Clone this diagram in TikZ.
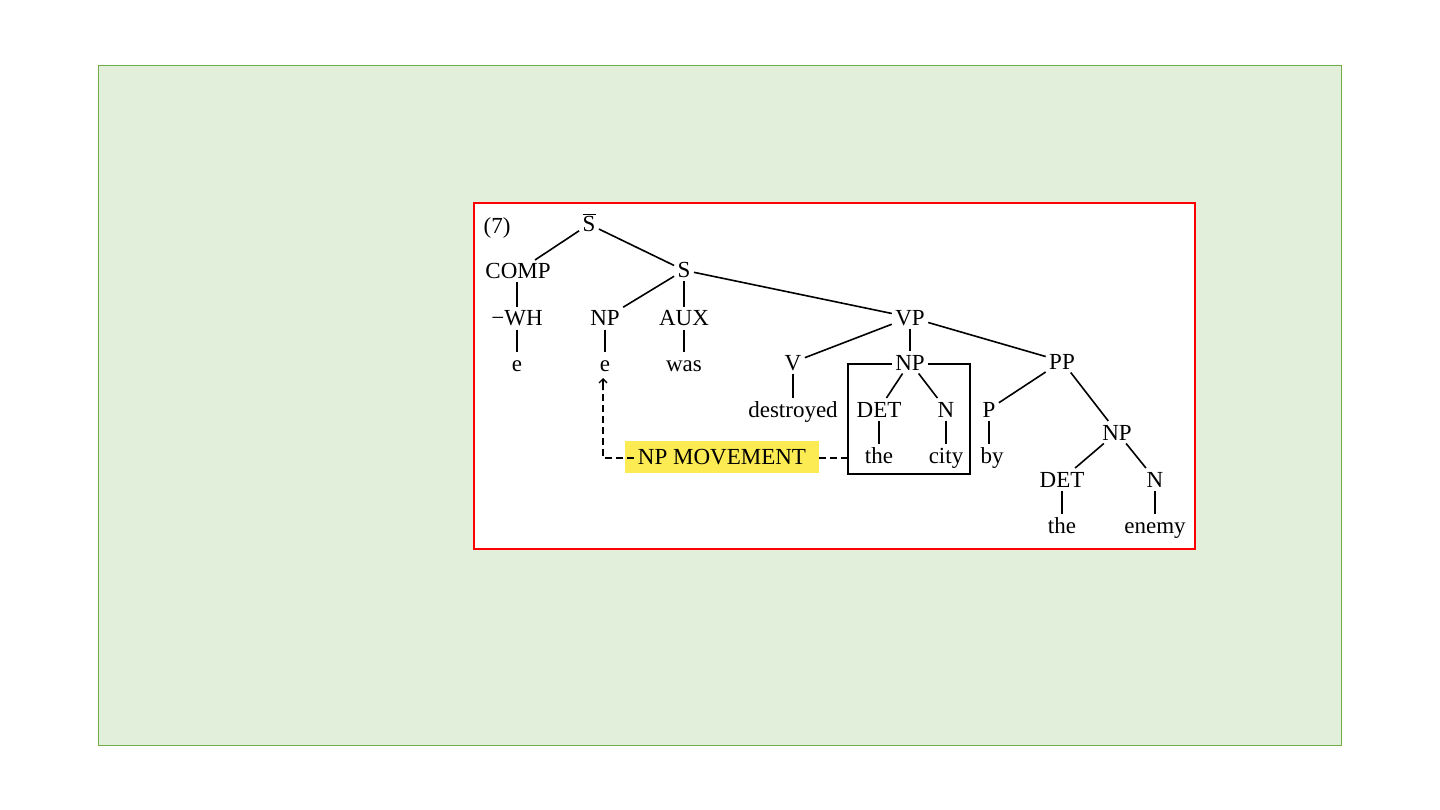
\documentclass[tikz,border=0pt]{standalone}
\usepackage{fontspec}
\setmainfont{Liberation Serif}
\usetikzlibrary{arrows.meta}
\definecolor{bggreen}{HTML}{E2EFDA}
\definecolor{bgborder}{HTML}{70AD47}
\definecolor{hlyellow}{HTML}{FCEB52}
\definecolor{framered}{HTML}{FF0000}
\tikzset{
  lab/.style={font=\fontsize{23}{27}\selectfont, inner sep=3pt, outer sep=0.5pt,
              text height=15.5pt, text depth=0pt, anchor=base},
  edge/.style={line width=1.6pt, black},
  movedash/.style={line width=1.4pt, dash pattern=on 7pt off 4pt},
  hlbox/.style={font=\fontsize{23}{27}\selectfont, fill=hlyellow, inner xsep=13pt,
                inner ysep=0pt, text height=15.5pt, text depth=0pt, minimum height=32pt}
}
\begin{document}
\begin{tikzpicture}[x=1pt,y=-1pt]
\useasboundingbox (0,0) rectangle (1440,810);
\draw[fill=bggreen, draw=bgborder, line width=0.9pt] (98,65) rectangle (1341,745);
\draw[fill=white, draw=framered, line width=1.2pt] (474,203) rectangle (1195,549);

% nodes
\node[lab] (num) at (497,234) {(7)};
\node[lab] (sbar) at (589,232) {S};
\draw[line width=1.2pt] ([shift={(-6.5,-17.5)}]sbar.base) -- ([shift={(6.5,-17.5)}]sbar.base);
\node[lab] (comp) at (518,279) {COMP};
\node[lab] (s) at (684,278) {S};
\node[lab] (wh) at (517,326) {−WH};
\node[lab] (np1) at (605,326) {NP};
\node[lab] (aux) at (684,326) {AUX};
\node[lab] (vp) at (910,325) {VP};
\node[lab] (e1) at (517,371) {e};
\node[lab] (e2) at (605,371) {e};
\node[lab] (was) at (684,371) {was};
\node[lab] (v) at (793,370) {V};
\node[lab] (npb) at (910,370) {NP};
\node[lab] (pp) at (1062,369) {PP};
\node[lab] (destroyed) at (793,417) {destroyed};
\node[lab] (det1) at (879,417) {DET};
\node[lab] (n1) at (946,417) {N};
\node[lab] (p) at (989,417) {P};
\node[lab] (the1) at (879,463) {the};
\node[lab] (city) at (946,463) {city};
\node[lab] (by) at (992,463) {by};
\node[lab] (np2) at (1117,440) {NP};
\node[lab] (det2) at (1062,487) {DET};
\node[lab] (n2) at (1155,487) {N};
\node[lab] (the2) at (1062,533) {the};
\node[lab] (enemy) at (1155,533) {enemy};

% tree edges
\draw[edge] (sbar) -- (comp);
\draw[edge] (sbar) -- (s);
\draw[edge] (comp.south -| wh) -- (wh);
\draw[edge] (wh) -- (e1);
\draw[edge] (s) -- (np1);
\draw[edge] (s) -- (aux);
\draw[edge] (s) -- (vp);
\draw[edge] (np1) -- (e2);
\draw[edge] (aux) -- (was);
\draw[edge] (vp) -- (v);
\draw[edge] (vp) -- (npb);
\draw[edge] (vp) -- (pp);
\draw[edge] (v) -- (destroyed);
\draw[edge] (npb) -- (det1);
\draw[edge] (npb) -- (n1);
\draw[edge] (det1) -- (the1);
\draw[edge] (n1) -- (city);
\draw[edge] (pp) -- (p);
\draw[edge] (pp) -- (np2);
\draw[edge] (p) -- (p |- by.north);
\draw[edge] (np2) -- (det2);
\draw[edge] (np2) -- (n2);
\draw[edge] (det2) -- (the2);
\draw[edge] (n2) -- (enemy);

% box around moved NP
\coordinate (boxTL) at (848,364);
\coordinate (boxBL) at (848,474);
\coordinate (boxBR) at (970,474);
\coordinate (boxTR) at (970,364);
\draw[edge] (npb.west |- boxTL) -- (boxTL) -- (boxBL) -- (boxBR) -- (boxTR) -- (npb.east |- boxTR);

% NP movement
\node[hlbox] (mv) at (722,457) {NP MOVEMENT};
\coordinate (mvin) at (634,458);
\coordinate (corner) at (603,458);
\coordinate (tipbase) at (603,390);
\coordinate (tip) at (603,378);
\coordinate (boxL) at (848,458);
\draw[movedash] (mvin) -- (corner) -- (tipbase);
\draw[line width=1.4pt, -{Straight Barb[length=4pt,width=8pt,line width=1.3pt]}] (tipbase) -- (tip);
\draw[movedash] (mv.east |- boxL) -- (boxL);
\end{tikzpicture}
\end{document}
